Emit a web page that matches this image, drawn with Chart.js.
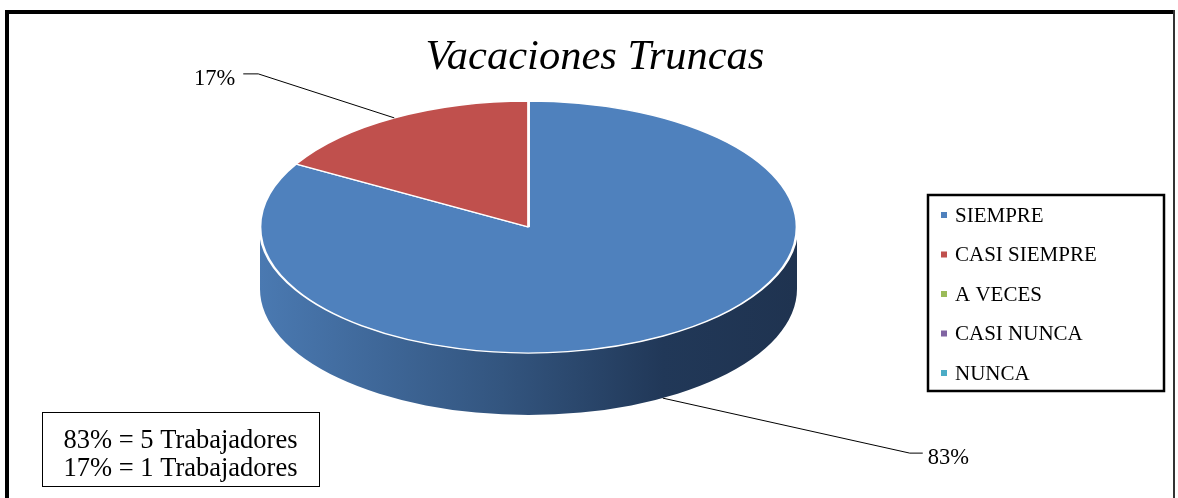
<!DOCTYPE html>
<html>
<head>
<meta charset="utf-8">
<script src="https://cdn.jsdelivr.net/npm/chart.js@4"></script>
<style>
  html, body { margin: 0; padding: 0; background: #fff; }
  #wrap { width: 1178px; height: 498px; }
</style>
</head>
<body>
<div id="wrap"><canvas id="pieChart" width="1178" height="498"></canvas></div>
<script>
// Data
const categories = ['SIEMPRE', 'CASI SIEMPRE', 'A VECES', 'CASI NUNCA', 'NUNCA'];
const workers = [5, 1, 0, 0, 0];
const sliceColors = ['#4F81BD', '#C0504D', '#9BBB59', '#8064A2', '#4BACC6'];
const noteLines = ['83% = 5 Trabajadores', '17% = 1 Trabajadores'];

// Layout of the flattened "3D" pie
const PIE = { cx: 528.5, cy: 227, rx: 268.5, ry: 126, depth: 62 };
// leader line elbows, relative to the slice anchor
const LEADERS = [
  { dx: 247, dy: 55, tail: 13 },
  { dx: -136, dy: -44, tail: -15 }
];
const FONT = "'Liberation Serif', 'Times New Roman', serif";

const total = workers.reduce((a, b) => a + b, 0);
const pct = v => Math.round(v / total * 100) + '%';

// darker shades for the pie side
function sideGradient(ctx, color) {
  const g = ctx.createLinearGradient(PIE.cx - PIE.rx, 0, PIE.cx + PIE.rx, 0);
  if (color === '#4F81BD') {
    g.addColorStop(0, '#4a79b1');
    g.addColorStop(0.45, '#33557f');
    g.addColorStop(0.75, '#213858');
    g.addColorStop(1, '#1f3350');
  } else {
    g.addColorStop(0, color);
    g.addColorStop(1, '#333333');
  }
  return g;
}

const flatPie = {
  id: 'flatPie',
  beforeDatasetsDraw(chart) {
    const ctx = chart.ctx;
    const arcs = chart.getDatasetMeta(0).data;
    const { x, y, outerRadius } = arcs[0];

    // side walls (only front half is visible)
    arcs.forEach((arc, i) => {
      if (!workers[i]) return;
      for (let k = -1; k <= 1; k++) {
        const a = Math.max(arc.startAngle, 2 * Math.PI * k);
        const b = Math.min(arc.endAngle, 2 * Math.PI * k + Math.PI);
        if (b <= a) continue;
        ctx.save();
        ctx.beginPath();
        ctx.ellipse(PIE.cx, PIE.cy, PIE.rx, PIE.ry, 0, a, b);
        ctx.ellipse(PIE.cx, PIE.cy + PIE.depth, PIE.rx, PIE.ry, 0, b, a, true);
        ctx.closePath();
        ctx.fillStyle = sideGradient(ctx, sliceColors[i]);
        ctx.fill();
        ctx.restore();
      }
    });

    // squash the library's circle into the top ellipse
    ctx.save();
    ctx.translate(PIE.cx, PIE.cy);
    ctx.scale(PIE.rx / outerRadius, PIE.ry / outerRadius);
    ctx.translate(-x, -y);
  },
  afterDatasetsDraw(chart) {
    const ctx = chart.ctx;
    ctx.restore();

    // data labels with leader lines
    const arcs = chart.getDatasetMeta(0).data;
    let n = 0;
    arcs.forEach((arc, i) => {
      if (!workers[i]) return;
      const m = (arc.startAngle + arc.endAngle) / 2;
      const front = Math.sin(m) > 0;
      const ax = PIE.cx + PIE.rx * Math.cos(m);
      const ay = PIE.cy + PIE.ry * Math.sin(m) + (front ? PIE.depth : 0);
      const L = LEADERS[n++];
      const ex = ax + L.dx, ey = ay + L.dy;
      ctx.save();
      ctx.strokeStyle = '#000';
      ctx.lineWidth = 1;
      ctx.beginPath();
      ctx.moveTo(ax, ay);
      ctx.lineTo(ex, ey);
      ctx.lineTo(ex + L.tail, ey);
      ctx.stroke();
      ctx.fillStyle = '#000';
      ctx.font = '22.5px ' + FONT;
      ctx.textBaseline = 'middle';
      ctx.textAlign = L.tail > 0 ? 'left' : 'right';
      ctx.fillText(pct(workers[i]), ex + L.tail + (L.tail > 0 ? 5 : -8), ey + 5);
      ctx.restore();
    });
  },
  afterDraw(chart) {
    const ctx = chart.ctx;
    ctx.save();
    // outer frame
    ctx.fillStyle = '#000';
    ctx.fillRect(5, 10, 1170, 4);
    ctx.fillRect(5, 10, 4, 488);
    ctx.fillStyle = '#333';
    ctx.fillRect(1173, 10, 2, 488);

    // legend
    ctx.strokeStyle = '#000';
    ctx.lineWidth = 2.5;
    ctx.strokeRect(928, 195, 236, 196);
    ctx.font = '21px ' + FONT;
    ctx.textBaseline = 'middle';
    ctx.textAlign = 'left';
    categories.forEach((c, i) => {
      const yy = 215 + i * 39.5;
      ctx.fillStyle = sliceColors[i];
      ctx.fillRect(941, yy - 3, 6, 6);
      ctx.fillStyle = '#000';
      ctx.fillText(c, 955, yy + 1);
    });

    // note box
    ctx.lineWidth = 1;
    ctx.strokeRect(42.5, 412.5, 277, 74);
    ctx.font = '26.5px ' + FONT;
    ctx.textAlign = 'center';
    noteLines.forEach((t, i) => ctx.fillText(t, 180.5, 441 + i * 28));
    ctx.restore();
  }
};

new Chart(document.getElementById('pieChart'), {
  type: 'pie',
  data: {
    labels: categories,
    datasets: [{
      data: workers,
      backgroundColor: sliceColors,
      borderColor: '#ffffff',
      borderWidth: 2
    }]
  },
  options: {
    responsive: false,
    animation: false,
    layout: { padding: { top: 32, left: 12, bottom: 20 } },
    plugins: {
      legend: { display: false },
      tooltip: { enabled: false },
      title: {
        display: true,
        text: 'Vacaciones Truncas',
        color: '#000',
        font: { family: FONT, size: 42.5, style: 'italic', weight: 'normal' },
        padding: 0
      }
    }
  },
  plugins: [flatPie]
});
</script>
</body>
</html>
